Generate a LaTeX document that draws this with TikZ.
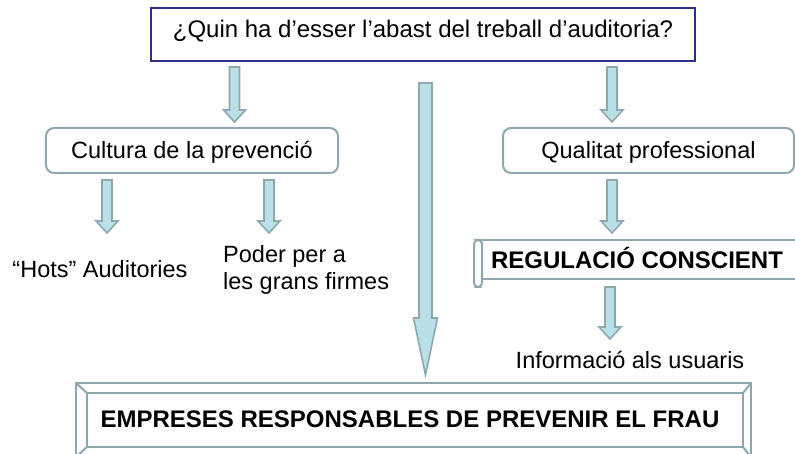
\documentclass[tikz,border=0pt]{standalone}
\usepackage{fontspec}
\setmainfont{Liberation Sans}
\usetikzlibrary{calc}
\definecolor{edgec}{RGB}{140,168,172}
\definecolor{arrfill}{RGB}{185,224,230}
\definecolor{navyc}{RGB}{46,46,140}
\newcommand\myregfont{\fontsize{23.5bp}{27bp}\selectfont}
\newcommand\mytopfont{\fontsize{24bp}{28bp}\selectfont}
\newcommand\myboldfont{\fontsize{24bp}{28bp}\selectfont\bfseries}
\newcommand\blockarrow[5]{%
  \draw[barrowsty] ($(#1)+(-#3,0)$) -- ($(#1)+(#3,0)$) -- ($(#2)+(#3,-#5)$) -- ($(#2)+(#4,-#5)$) -- (#2) -- ($(#2)+(-#4,-#5)$) -- ($(#2)+(-#3,-#5)$) -- cycle;}
\begin{document}
\begin{tikzpicture}[x=1bp,y=-1bp,
  barrowsty/.style={draw=edgec, fill=arrfill, line width=1.6bp, line join=miter},
  edgeline/.style={draw=edgec, line width=2bp},
  rbox/.style={draw=edgec, line width=2bp, rounded corners=8bp, minimum height=45bp, inner sep=0pt, font=\myregfont, text height=16.8bp, text depth=0bp},
  onetxt/.style={font=\myregfont, inner sep=0pt, text height=16.8bp, text depth=0bp},
  multitxt/.style={font=\myregfont, inner sep=0pt, align=left},
  boldtxt/.style={font=\myboldfont, inner sep=0pt, text height=17.2bp, text depth=0bp}]
\useasboundingbox (0,0) rectangle (795,454);
\clip (0,0) rectangle (795,454);

% top question box
\node[draw=navyc, line width=2bp, minimum width=544bp, minimum height=53bp, inner sep=0pt,
      font=\mytopfont, text height=17.2bp, text depth=11.6bp] (q) at (423,34.5)
      {¿Quin ha d’esser l’abast del treball d’auditoria?};

% second level boxes
\node[rbox, minimum width=292bp] (cult) at (192,150.5) {Cultura de la prevenció};
\node[rbox, minimum width=291bp] (qual) at (648.5,150.5) {Qualitat professional};

% leaf texts
\node[onetxt] (hots) at (100,269) {“Hots” Auditories};
\node[multitxt, anchor=west] (poder) at (223,269.5) {Poder per a\\les grans firmes};
\node[onetxt] (info) at (630,360) {Informació als usuaris};

% scroll shape
\draw[edgeline] (478,240) -- (800,240);
\draw[edgeline] (482,279) -- (800,279);
\draw[edgeline, rounded corners=4bp] (474,240) rectangle (482,287);
\node[boldtxt] (reg) at (637,260) {REGULACIÓ CONSCIENT};

% bevel box
\draw[edgeline] (76,383) rectangle (751,457);
\draw[edgeline] (87,393) rectangle (743,447);
\draw[edgeline] (76,383) -- (87,393) (751,383) -- (743,393) (76,457) -- (87,447) (751,457) -- (743,447);
\node[boldtxt] (emp) at (410,418.5) {EMPRESES RESPONSABLES DE PREVENIR EL FRAU};

% block arrows
\coordinate (a1s) at (234.5,67);  \coordinate (a1e) at (234.5,122);
\coordinate (a2s) at (612,67);    \coordinate (a2e) at (612,122);
\coordinate (a3s) at (107,180);   \coordinate (a3e) at (107,233);
\coordinate (a4s) at (269,180);   \coordinate (a4e) at (269,233);
\coordinate (a5s) at (612,180);   \coordinate (a5e) at (612,233);
\coordinate (a6s) at (610,287);   \coordinate (a6e) at (610,339);
\coordinate (bs) at (425.5,83);   \coordinate (be) at (425.5,375);
\blockarrow{a1s}{a1e}{5}{11}{12}
\blockarrow{a2s}{a2e}{5}{11}{12}
\blockarrow{a3s}{a3e}{5}{11}{12}
\blockarrow{a4s}{a4e}{5}{11}{12}
\blockarrow{a5s}{a5e}{5}{11}{12}
\blockarrow{a6s}{a6e}{5}{11}{12}
\blockarrow{bs}{be}{6.5}{12}{57}
\end{tikzpicture}
\end{document}
